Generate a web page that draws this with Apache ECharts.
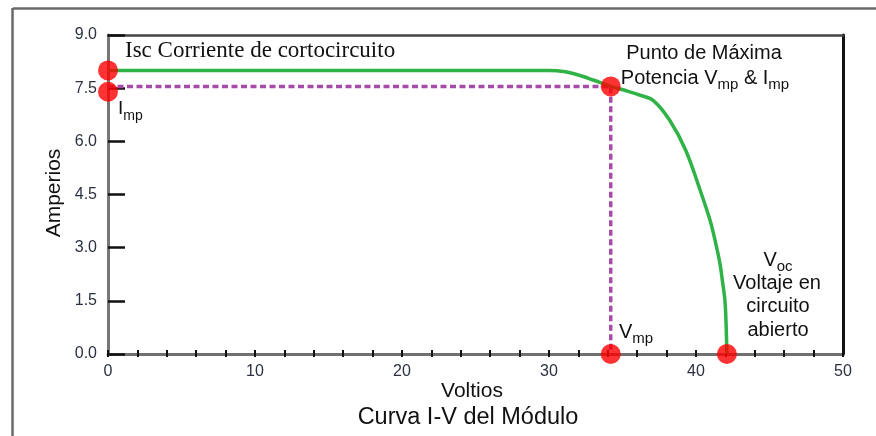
<!DOCTYPE html>
<html>
<head>
<meta charset="utf-8">
<script src="https://cdn.jsdelivr.net/npm/echarts@6/dist/echarts.min.js"></script>
<style>
  html, body { margin: 0; padding: 0; background: #ffffff; }
  #chart { width: 876px; height: 436px; }
</style>
</head>
<body>
<div id="chart"></div>
<script>
// I-V curve of a PV module: voltage (V) and current (A)
const voltage = [0, 30, 31, 32, 33, 34.2, 35.3, 36.2, 37.1, 38.2, 39.3, 40.3, 40.95, 41.3, 41.63, 41.8, 41.97, 42.05, 42.1];
const current = [8.0, 8.0, 7.97, 7.87, 7.73, 7.55, 7.42, 7.3, 7.15, 6.6, 5.75, 4.6, 3.78, 3.2, 2.55, 2.05, 1.5, 0.8, 0.0];

// Marked points: Isc, Imp, maximum power point, Vmp, Voc
const markerVoltage = [0, 0, 34.2, 34.2, 42.1];
const markerCurrent = [8.0, 7.4, 7.55, 0, 0];

// Guide from Imp across to the maximum power point and down to Vmp
const guideVoltage = [0, 34.2, 34.2];
const guideCurrent = [7.55, 7.55, 0];

// Axis ranges and tick steps
const xMin = 0, xMax = 50, xTickStep = 2, xLabelStep = 10;
const yMin = 0, yMax = 9, yTickStep = 1.5;

const zip = (a, b) => a.map((v, i) => [v, b[i]]);

const SANS = '"Liberation Sans", Arial, sans-serif';
const SERIF = '"Liberation Serif", "Times New Roman", serif';
const INK = '#111111';

function label(x, y, text, size, family, align, rich) {
  return {
    type: 'text', x: x, y: y, z: 100,
    style: {
      text: text, fill: INK, fontSize: size, fontFamily: family,
      align: align || 'left', verticalAlign: 'middle', rich: rich
    }
  };
}
const sub = (size) => ({ s: { fontSize: size, fontFamily: SANS, fill: INK, padding: [14, 0, 0, 0] } });

const chart = echarts.init(document.getElementById('chart'), null, { renderer: 'canvas' });

chart.setOption({
  animation: false,
  backgroundColor: '#ffffff',
  grid: { left: 108, right: 33, top: 35, bottom: 82 },
  xAxis: [
    {
      type: 'value', position: 'bottom', min: xMin, max: xMax, interval: xTickStep,
      axisLine: { show: true, onZero: false, lineStyle: { color: '#707070', width: 3 } },
      axisTick: { show: true, inside: true, length: 4, lineStyle: { color: '#111111', width: 2 } },
      axisLabel: {
        margin: 10, fontSize: 16, fontFamily: SANS, color: '#2b3140',
        formatter: (v) => (v % xLabelStep === 0 ? String(v) : '')
      },
      splitLine: { show: false }
    },
    {
      type: 'value', position: 'bottom', min: xMin, max: xMax, interval: xTickStep,
      axisLine: { show: false, onZero: false },
      axisTick: { show: true, inside: false, length: 3, lineStyle: { color: '#111111', width: 2 } },
      axisLabel: { show: false },
      splitLine: { show: false }
    },
    {
      type: 'value', position: 'top', min: xMin, max: xMax,
      axisLine: { show: true, onZero: false, lineStyle: { color: '#444444', width: 2.5 } },
      axisTick: { show: false }, axisLabel: { show: false }, splitLine: { show: false }
    }
  ],
  yAxis: [
    {
      type: 'value', position: 'left', min: yMin, max: yMax, interval: yTickStep,
      axisLine: { show: true, onZero: false, lineStyle: { color: '#777777', width: 3 } },
      axisTick: { show: true, inside: true, length: 17, lineStyle: { color: '#111111', width: 2.5 } },
      axisLabel: {
        margin: 11, fontSize: 16, fontFamily: SANS, color: '#2b3140',
        formatter: (v) => v.toFixed(1)
      },
      splitLine: { show: false }
    },
    {
      type: 'value', position: 'right', min: yMin, max: yMax,
      axisLine: { show: true, onZero: false, lineStyle: { color: '#111111', width: 3 } },
      axisTick: { show: false }, axisLabel: { show: false }, splitLine: { show: false }
    }
  ],
  series: [
    {
      type: 'line', name: 'guide', xAxisIndex: 0, yAxisIndex: 0, z: 2,
      data: zip(guideVoltage, guideCurrent),
      showSymbol: false, symbol: 'none',
      lineStyle: { color: '#a64ca8', width: 3.5, type: [6, 3.5] }
    },
    {
      type: 'line', name: 'I-V', xAxisIndex: 0, yAxisIndex: 0, z: 3,
      data: zip(voltage, current),
      showSymbol: false, symbol: 'none', smooth: 0.35,
      lineStyle: { color: '#2fb347', width: 3.5 }
    },
    {
      type: 'scatter', name: 'points', xAxisIndex: 0, yAxisIndex: 0, z: 5,
      data: zip(markerVoltage, markerCurrent),
      symbol: 'circle', symbolSize: 20,
      itemStyle: { color: '#ff0000' }
    }
  ],
  graphic: [
    // outer frame
    { type: 'line', z: 50, shape: { x1: 13, y1: 8.5, x2: 876, y2: 8.5 }, style: { stroke: '#6a6a6a', lineWidth: 2.5 } },
    { type: 'line', z: 50, shape: { x1: 12.5, y1: 8, x2: 12.5, y2: 436 }, style: { stroke: '#6a6a6a', lineWidth: 2.5 } },

    label(125, 51, 'Isc Corriente de cortocircuito', 23, SERIF, 'left'),
    label(118, 109, 'I{s|mp}', 19, SANS, 'left', sub(14)),

    label(704, 53, 'Punto de Máxima', 20, SANS, 'center'),
    label(705, 78, 'Potencia V{s|mp} & I{s|mp}', 20, SANS, 'center', sub(15)),

    label(619, 332, 'V{s|mp}', 20, SANS, 'left', sub(15)),

    label(778, 260, 'V{s|oc}', 20, SANS, 'center', sub(15)),
    label(777, 283, 'Voltaje en', 20, SANS, 'center'),
    label(778, 306, 'circuito', 20, SANS, 'center'),
    label(778, 330, 'abierto', 20, SANS, 'center'),

    // axis names and caption
    {
      type: 'text', z: 100, x: 54, y: 193, rotation: Math.PI / 2,
      style: { text: 'Amperios', fill: INK, fontSize: 21, fontFamily: SANS, align: 'center', verticalAlign: 'middle' }
    },
    label(472, 391, 'Voltios', 21, SANS, 'center'),
    label(468, 418, 'Curva I-V del Módulo', 23.5, SANS, 'center')
  ]
});
</script>
</body>
</html>
